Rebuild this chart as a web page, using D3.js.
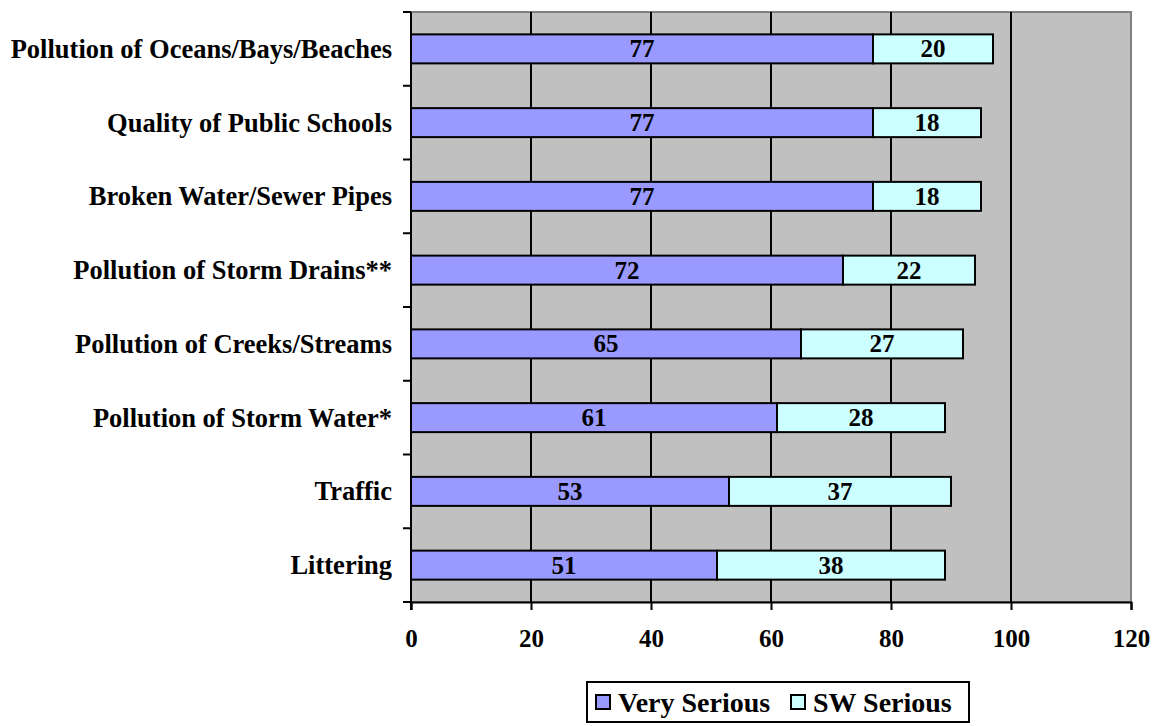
<!DOCTYPE html>
<html><head><meta charset="utf-8">
<script src="https://cdn.jsdelivr.net/npm/d3@7"></script>
<style>body{margin:0;background:#fff}svg{display:block}text{font-family:"Liberation Serif","Times New Roman",serif;font-weight:bold}</style>
</head><body><svg id="c" width="1157" height="726"></svg>
<script>
const categories = ["Pollution of Oceans/Bays/Beaches","Quality of Public Schools","Broken Water/Sewer Pipes","Pollution of Storm Drains**","Pollution of Creeks/Streams","Pollution of Storm Water*","Traffic","Littering"];
const verySerious = [77,77,77,72,65,61,53,51];
const swSerious = [20,18,18,22,27,28,37,38];
const seriesNames = ["Very Serious","SW Serious"];
const xTicks = [0,20,40,60,80,100,120];
const colors = ["#9999FF","#CCFFFF"];

const svg = d3.select("#c");
const L=411, R=1131, T=12, B=602;
const x = d3.scaleLinear().domain([0,120]).range([L,R]);
const yb = d3.scaleBand().domain(categories).range([T,B]);

svg.append("rect").attr("x",L).attr("y",T).attr("width",R-L).attr("height",B-T).attr("fill","#C0C0C0").attr("stroke","#808080").attr("stroke-width",2);
svg.append("g").selectAll("line").data(xTicks.slice(1,-1)).join("line")
  .attr("x1",d=>x(d)).attr("x2",d=>x(d)).attr("y1",T).attr("y2",B).attr("stroke","#000").attr("stroke-width",2);

const data = categories.map((c,i)=>({c, v:[verySerious[i], swSerious[i]]}));
const g = svg.append("g");
data.forEach(d=>{
  let acc=0;
  d.v.forEach((v,j)=>{
    const bh=29, yc=yb(d.c)+yb.bandwidth()/2;
    g.append("rect").attr("x",x(acc)).attr("y",yc-bh/2).attr("width",x(acc+v)-x(acc)).attr("height",bh)
      .attr("fill",colors[j]).attr("stroke","#000").attr("stroke-width",2);
    g.append("text").attr("x",(x(acc)+x(acc+v))/2).attr("y",yc).attr("dy","0.34em").attr("text-anchor","middle")
      .attr("font-size",25).text(v);
    acc+=v;
  });
});

// axes
const xa = svg.append("g").attr("transform",`translate(0,${B})`).call(d3.axisBottom(x).tickValues(xTicks).tickSize(8).tickPadding(19));
xa.select(".domain").attr("stroke","#000").attr("stroke-width",2);
xa.selectAll(".tick line").attr("stroke","#000").attr("stroke-width",2);
xa.selectAll(".tick text").attr("font-size",25).attr("fill","#000").style("font-family",'"Liberation Serif",serif').style("font-weight","bold");

svg.append("line").attr("x1",L).attr("x2",L).attr("y1",T).attr("y2",B+8).attr("stroke","#000").attr("stroke-width",2);
const bounds = categories.map(c=>yb(c)).concat([B]);
svg.append("g").selectAll("line").data(bounds).join("line")
  .attr("x1",L-8).attr("x2",L).attr("y1",d=>d).attr("y2",d=>d).attr("stroke","#000").attr("stroke-width",2);
svg.append("g").selectAll("text").data(categories).join("text")
  .attr("x",392).attr("y",d=>yb(d)+yb.bandwidth()/2).attr("dy","0.34em").attr("text-anchor","end")
  .attr("font-size",26.5).text(d=>d);

// legend
const lg = svg.append("g");
lg.append("rect").attr("x",587).attr("y",682).attr("width",382).attr("height",40).attr("fill","#fff").attr("stroke","#000").attr("stroke-width",2);
const lx=[596,791];
seriesNames.forEach((n,i)=>{
  lg.append("rect").attr("x",lx[i]).attr("y",695).attr("width",14).attr("height",14).attr("fill",colors[i]).attr("stroke","#000").attr("stroke-width",2);
  lg.append("text").attr("x",lx[i]+22).attr("y",702).attr("dy","0.34em").attr("font-size",28).text(n);
});
</script></body></html>
